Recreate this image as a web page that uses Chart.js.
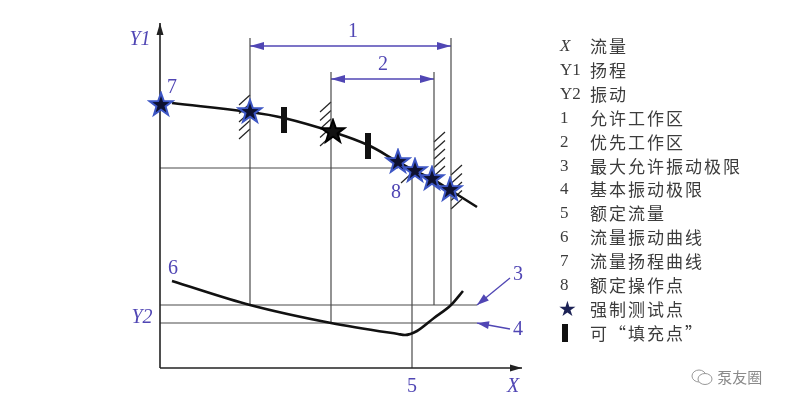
<!DOCTYPE html>
<html>
<head>
<meta charset="utf-8">
<script src="https://cdn.jsdelivr.net/npm/chart.js@4/dist/chart.umd.min.js"></script>
<style>
  body { margin: 0; background: #fff; }
  #wrap { position: relative; width: 797px; height: 413px; }
  #legend { position: absolute; left: 0; top: 0; }
  .row { position: absolute; height: 24px; line-height: 24px; white-space: nowrap; color: #3c3c3c; }
  .key { position: absolute; left: 560px; font-family: "Liberation Serif", serif; font-size: 17px; }
  .txt { position: absolute; left: 590px; font-family: "Noto Sans CJK SC", sans-serif; font-size: 17px; letter-spacing: 2px; }
  #mark { position: absolute; left: 690px; top: 366px; color: #8a8a8a; font-family: "Noto Sans CJK SC", sans-serif; font-size: 15px; }
</style>
</head>
<body>
<div id="wrap">
  <canvas id="chart" width="797" height="413"></canvas>
  <div id="legend"></div>
  <div id="mark"><svg width="24" height="18" style="vertical-align:-3px"><ellipse cx="9" cy="8" rx="7" ry="6" fill="none" stroke="#999"/><ellipse cx="15" cy="11" rx="7" ry="5.5" fill="#fff" stroke="#999"/></svg> 泵友圈</div>
</div>
<script>
// flow-head curve (7)
const headFlow = [12, 90, 124, 173, 208, 238, 255, 272, 290, 317];
const headValue = [265, 256, 250, 236, 223, 206, 197, 189, 178, 161];
// flow-vibration curve (6)
const vibFlow = [12, 90, 171, 238, 245, 257, 274, 291, 303];
const vibValue = [87, 63, 45, 34, 33, 37, 50, 63, 77];
// mandatory test points (stars)
const starFlow = [1, 90, 238, 255, 272, 290];
const starHead = [263, 256, 206, 197, 189, 178];
const blackStarFlow = [173];
const blackStarHead = [236];
// optional "fill" points
const fillFlow = [124, 208];
const fillHead = [248, 222];
// limits
const maxVib = 63;      // 3
const baseVib = 45;     // 4
const ratedFlow = 252;  // 5
const ratedHead = 200;
// vertical boundary lines [flow, from, to]
const vLines = [[90, 63, 330], [171, 45, 296], [ratedFlow, 0, 191], [274, 63, 296], [291, 63, 330]];
// hatches [flow, from, to, side]
const hatches = [[90, 226, 273, -1], [171, 218, 266, -1], [274, 185, 236, 1], [291, 156, 203, 1], [252, 181, 195, -1]];
// zones 1 and 2
const zoneFrom = [90, 171];
const zoneTo = [291, 274];
const zoneLevel = [322, 289];
// annotation labels
const labelText = ['Y1', 'Y2', 'X', '5', '6', '7', '8', '1', '2', '3', '4'];
const labelX = [-20, -18, 353, 252, 13, 12, 236, 193, 223, 358, 358];
const labelY = [328, 50, -19, -19, 99, 280, 175, 336, 303, 93, 38];

const legendKeys = ['X', 'Y1', 'Y2', '1', '2', '3', '4', '5', '6', '7', '8', 'star', 'bar'];
const legendText = ['流量', '扬程', '振动', '允许工作区', '优先工作区', '最大允许振动极限', '基本振动极限',
  '额定流量', '流量振动曲线', '流量扬程曲线', '额定操作点', '强制测试点', '可“填充点”'];

const purple = '#5046b4';
const thin = '#4a4a4a';

function makeStar(r, fill, stroke) {
  const c = document.createElement('canvas');
  c.width = c.height = 2 * r + 4;
  const g = c.getContext('2d');
  g.beginPath();
  for (let i = 0; i < 10; i++) {
    const rr = i % 2 ? r * 0.4 : r;
    const a = -Math.PI / 2 + i * Math.PI / 5;
    g.lineTo(r + 2 + rr * Math.cos(a), r + 2 + rr * Math.sin(a));
  }
  g.closePath();
  g.fillStyle = fill; g.fill();
  g.lineWidth = 2; g.strokeStyle = stroke; g.stroke();
  return c;
}
function makeBar() {
  const c = document.createElement('canvas');
  c.width = 6; c.height = 26;
  const g = c.getContext('2d');
  g.fillStyle = '#111'; g.fillRect(0, 0, 6, 26);
  return c;
}

function pts(xs, ys) { return xs.map((x, i) => ({ x: x, y: ys[i] })); }
function seg(x1, y1, x2, y2) { return [{ x: x1, y: y1 }, { x: x2, y: y2 }]; }

const datasets = [];
datasets.push({ data: pts(starFlow, starHead), showLine: false, pointStyle: makeStar(12, '#0e1130', '#3d56c4'), order: 0 });
datasets.push({ data: pts(blackStarFlow, blackStarHead), showLine: false, pointStyle: makeStar(12, '#111', '#000'), order: 0 });
datasets.push({ data: pts(fillFlow, fillHead), showLine: false, pointStyle: makeBar(), order: 0 });
datasets.push({ data: pts(headFlow, headValue), borderColor: '#111', borderWidth: 2.6, tension: 0.4, pointRadius: 0, order: 1 });
datasets.push({ data: pts(vibFlow, vibValue), borderColor: '#111', borderWidth: 2.6, cubicInterpolationMode: 'monotone', pointRadius: 0, order: 1 });
// axes
datasets.push({ data: seg(0, 0, 0, 345), borderColor: '#222', borderWidth: 1.6, pointRadius: 0, arrow: [12, 3.5], order: 2 });
datasets.push({ data: seg(0, 0, 362, 0), borderColor: '#222', borderWidth: 1.6, pointRadius: 0, arrow: [12, 3.5], order: 2 });
// limit lines
datasets.push({ data: seg(0, maxVib, 317, maxVib), borderColor: thin, borderWidth: 1.2, pointRadius: 0, order: 3 });
datasets.push({ data: seg(0, baseVib, 317, baseVib), borderColor: thin, borderWidth: 1.2, pointRadius: 0, order: 3 });
datasets.push({ data: seg(0, ratedHead, 238, ratedHead), borderColor: thin, borderWidth: 1.2, pointRadius: 0, order: 3 });
vLines.forEach(v => datasets.push({ data: seg(v[0], v[1], v[0], v[2]), borderColor: thin, borderWidth: 1.2, pointRadius: 0, order: 3 }));
// zone dimension arrows
zoneFrom.forEach((x, i) => datasets.push({ data: seg(x, zoneLevel[i], zoneTo[i], zoneLevel[i]), borderColor: purple, borderWidth: 1.3, pointRadius: 0, arrow: [14, 4], arrowStart: true, order: 3 }));
// pointers to limits 3 and 4
datasets.push({ data: seg(350, 90, 317, maxVib), borderColor: purple, borderWidth: 1.3, pointRadius: 0, arrow: [12, 4], order: 3 });
datasets.push({ data: seg(350, 39, 317, baseVib), borderColor: purple, borderWidth: 1.3, pointRadius: 0, arrow: [12, 4], order: 3 });
datasets.forEach(d => { d.clip = false; });

function arrowHead(g, from, to, len, half, color) {
  const a = Math.atan2(to.y - from.y, to.x - from.x);
  g.save();
  g.translate(to.x, to.y); g.rotate(a);
  g.beginPath(); g.moveTo(0, 0); g.lineTo(-len, -half); g.lineTo(-len, half); g.closePath();
  g.fillStyle = color; g.fill();
  g.restore();
}

const drawings = {
  id: 'drawings',
  beforeDatasetsDraw(chart) {
    const g = chart.ctx, xs = chart.scales.x, ys = chart.scales.y;
    g.save();
    g.strokeStyle = '#222'; g.lineWidth = 1.2;
    hatches.forEach(h => {
      const px = xs.getPixelForValue(h[0]);
      for (let y = ys.getPixelForValue(h[2]) + 10; y <= ys.getPixelForValue(h[1]); y += 8.5) {
        g.beginPath();
        if (h[3] < 0) { g.moveTo(px - 11, y); g.lineTo(px, y - 10); }
        else { g.moveTo(px, y); g.lineTo(px + 11, y - 10); }
        g.stroke();
      }
    });
    g.restore();
  },
  afterDatasetsDraw(chart) {
    const g = chart.ctx, xs = chart.scales.x, ys = chart.scales.y;
    chart.data.datasets.forEach((d, i) => {
      if (!d.arrow) return;
      const p = chart.getDatasetMeta(i).data;
      arrowHead(g, p[0], p[1], d.arrow[0], d.arrow[1], d.borderColor);
      if (d.arrowStart) arrowHead(g, p[1], p[0], d.arrow[0], d.arrow[1], d.borderColor);
    });
    g.save();
    g.fillStyle = purple;
    g.textAlign = 'center'; g.textBaseline = 'middle';
    labelText.forEach((t, i) => {
      g.font = (/[XY]/.test(t) ? 'italic ' : '') + '20px "Liberation Serif", serif';
      g.fillText(t, xs.getPixelForValue(labelX[i]), ys.getPixelForValue(labelY[i]));
    });
    g.restore();
  }
};

new Chart(document.getElementById('chart'), {
  type: 'line',
  data: { datasets: datasets },
  options: {
    responsive: false,
    animation: false,
    layout: { padding: { left: 160, right: 275, top: 23, bottom: 45 } },
    scales: {
      x: { type: 'linear', min: 0, max: 362, display: false },
      y: { type: 'linear', min: 0, max: 345, display: false }
    },
    plugins: { legend: { display: false }, tooltip: { enabled: false } }
  },
  plugins: [drawings]
});

// right-hand key
const legend = document.getElementById('legend');
legendKeys.forEach((k, i) => {
  const row = document.createElement('div');
  row.className = 'row';
  row.style.top = (34 + i * 23.9) + 'px';
  let key;
  if (k === 'star') key = '<span class="key" style="color:#1c2255;font-size:21px;left:558px">★</span>';
  else if (k === 'bar') key = '<span class="key" style="left:562px;top:3px;width:6px;height:18px;background:#111"></span>';
  else key = '<span class="key"' + (k === 'X' ? ' style="font-style:italic"' : '') + '>' + k + '</span>';
  row.innerHTML = key + '<span class="txt">' + legendText[i] + '</span>';
  legend.appendChild(row);
});
</script>
</body>
</html>
